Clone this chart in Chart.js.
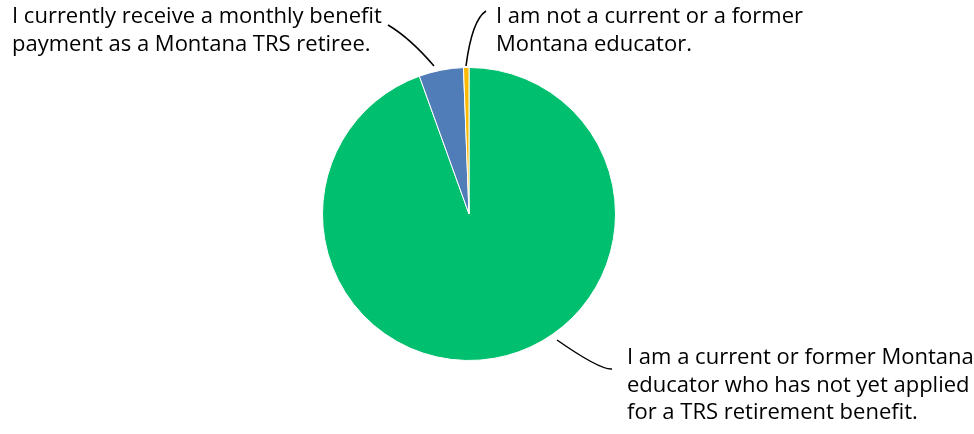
<!DOCTYPE html>
<html>
<head>
<meta charset="utf-8">
<script src="https://cdn.jsdelivr.net/npm/chart.js@4/dist/chart.umd.min.js"></script>
<style>
  html, body { margin: 0; padding: 0; background: #fff; }
  #wrap { width: 974px; height: 434px; position: relative; }
</style>
</head>
<body>
<div id="wrap"><canvas id="pie"></canvas></div>
<script>
// ── Data ───────────────────────────────────────────────────────────────────────
const categories = [
  "I am a current or former Montana educator who has not yet applied for a TRS retirement benefit.",
  "I currently receive a monthly benefit payment as a Montana TRS retiree.",
  "I am not a current or a former Montana educator.",
];
const shares = [94.5, 4.9, 0.6];
const colors = ["#00BF6F", "#507CB8", "#FDB900"];

// label text lines, where it sits and the leader curve (start, control, end)
const labelLines = [
  ["I am a current or former Montana", "educator who has not yet applied", "for a TRS retirement benefit."],
  ["I currently receive a monthly benefit", "payment as a Montana TRS retiree."],
  ["I am not a current or a former", "Montana educator."],
];
const labelPos = [[627, 358], [12, 17], [496, 17]];
const leaders = [
  [[557, 340], [600, 370], [612, 369]],
  [[388, 25], [410, 38], [434, 66]],
  [[486, 11], [472, 20], [466, 66]],
];

// ── Labels plugin ──────────────────────────────────────────────────────────────
const pieLabels = {
  id: "pieLabels",
  afterDraw(chart) {
    const ctx = chart.ctx;
    ctx.save();
    ctx.strokeStyle = "#000";
    ctx.lineWidth = 1.5;
    leaders.forEach(([a, c, b]) => {
      ctx.beginPath();
      ctx.moveTo(a[0], a[1]);
      ctx.quadraticCurveTo(c[0], c[1], b[0], b[1]);
      ctx.stroke();
    });
    ctx.fillStyle = "#000";
    ctx.font = '22px "Open Sans", sans-serif';
    ctx.textBaseline = "middle";
    ctx.textAlign = "left";
    labelLines.forEach((lines, i) => {
      const [x, y] = labelPos[i];
      lines.forEach((t, j) => ctx.fillText(t, x, y + j * 27.5));
    });
    ctx.restore();
  },
};

new Chart(document.getElementById("pie"), {
  type: "pie",
  data: {
    labels: categories,
    datasets: [{
      data: shares,
      backgroundColor: colors,
      borderColor: "#fff",
      borderWidth: 1,
    }],
  },
  options: {
    responsive: true,
    maintainAspectRatio: false,
    animation: false,
    layout: { padding: { left: 0, right: 36, top: 67, bottom: 73 } },
    plugins: { legend: { display: false }, tooltip: { enabled: false } },
  },
  plugins: [pieLabels],
});
</script>
</body>
</html>
